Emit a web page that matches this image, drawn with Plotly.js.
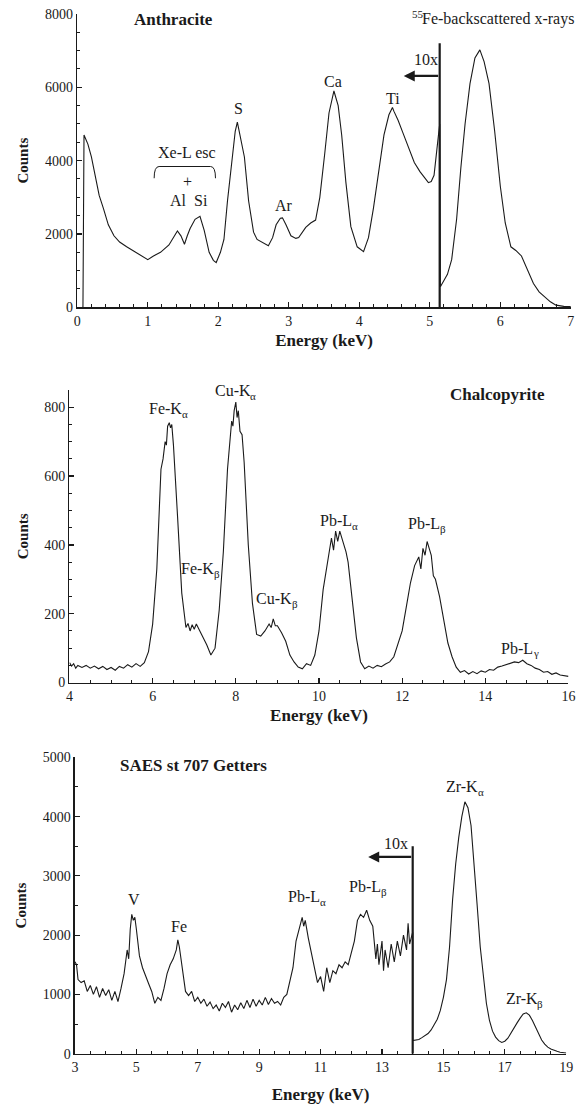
<!DOCTYPE html>
<html>
<head>
<meta charset="utf-8">
<script src="https://cdn.plot.ly/plotly-3.0.1.min.js"></script>
<style>
html,body{margin:0;padding:0;background:#fff;}
#chart{width:583px;height:1109px;}
</style>
</head>
<body>
<div id="chart"></div>
<script>
// ---------- Panel 1: Anthracite ----------
const anthE = [0.07,0.08,0.095,0.12,0.15,0.2,0.25,0.31,0.37,0.44,0.52,0.6,0.7,0.81,0.9,1.0,1.08,1.18,1.3,1.38,1.42,1.47,1.52,1.56,1.6,1.67,1.74,1.8,1.87,1.93,1.97,2.03,2.08,2.13,2.19,2.24,2.27,2.31,2.37,2.43,2.5,2.55,2.61,2.71,2.77,2.82,2.88,2.91,2.96,3.03,3.1,3.14,3.24,3.31,3.38,3.44,3.51,3.57,3.64,3.7,3.75,3.81,3.88,3.97,4.06,4.13,4.2,4.28,4.35,4.42,4.47,4.49,4.55,4.62,4.7,4.78,4.86,4.94,4.98,5.02,5.06,5.1,5.14,
  5.15,5.25,5.31,5.38,5.44,5.5,5.57,5.64,5.71,5.77,5.84,5.92,6.0,6.07,6.15,6.22,6.3,6.38,6.47,6.55,6.63,6.71,6.79,6.9,7.0];
const anthCounts = [0,0,4700,4600,4450,4100,3600,3050,2700,2250,1950,1780,1650,1530,1420,1300,1400,1500,1700,1980,2080,1950,1720,1950,2150,2400,2480,2100,1500,1280,1220,1500,1850,2900,4000,4800,5050,4700,4100,2900,2050,1850,1780,1680,1900,2250,2430,2440,2250,1950,1880,1900,2180,2300,2380,3000,4200,5300,5900,5500,4700,3400,2200,1650,1520,1900,2700,3700,4700,5250,5450,5350,5100,4750,4350,3950,3700,3480,3400,3430,3600,4300,5000,
  560,900,1300,2400,3800,5000,6100,6800,7020,6700,6100,4800,3300,2300,1650,1550,1400,1050,650,420,280,150,60,25,20];

// ---------- Panel 2: Chalcopyrite ----------
const chalE = [4.0,4.05,4.1,4.15,4.2,4.3,4.4,4.5,4.6,4.7,4.8,4.9,5.0,5.1,5.2,5.3,5.4,5.5,5.6,5.7,5.8,5.9,6.0,6.1,6.2,6.25,6.3,6.33,6.36,6.4,6.43,6.46,6.5,6.55,6.6,6.7,6.8,6.85,6.9,6.95,7.0,7.05,7.1,7.2,7.3,7.4,7.5,7.6,7.7,7.8,7.9,7.93,7.96,8.0,8.03,8.06,8.1,8.15,8.2,8.3,8.4,8.5,8.6,8.7,8.8,8.85,8.9,8.95,9.0,9.1,9.2,9.3,9.4,9.5,9.6,9.7,9.8,9.9,10.0,10.1,10.2,10.3,10.35,10.4,10.45,10.5,10.55,10.6,10.65,10.7,10.8,10.9,11.0,11.1,11.2,11.3,11.4,11.5,11.6,11.7,11.8,11.9,12.0,12.1,12.2,12.3,12.4,12.45,12.5,12.55,12.6,12.65,12.7,12.75,12.8,12.9,13.0,13.1,13.2,13.3,13.4,13.5,13.6,13.7,13.8,13.9,14.0,14.1,14.2,14.3,14.4,14.5,14.6,14.7,14.8,14.9,15.0,15.1,15.2,15.3,15.4,15.5,15.6,15.7,15.8,15.9,16.0];
const chalCounts = [58,48,55,42,50,44,50,42,48,40,47,38,44,36,47,42,52,45,55,47,58,90,170,330,620,650,700,690,745,755,740,750,690,600,480,260,160,172,150,168,155,170,158,130,110,80,100,210,380,620,760,745,790,815,770,790,730,720,640,400,230,140,135,150,170,160,185,165,165,145,120,80,60,45,40,55,50,80,150,270,350,420,385,440,410,440,420,400,380,350,230,130,60,40,48,42,50,46,54,60,75,110,150,220,290,340,365,330,390,370,410,390,370,310,300,250,180,115,75,45,30,35,25,32,26,34,30,38,36,45,48,52,55,60,58,65,55,50,42,38,30,32,24,28,22,20,18];

// ---------- Panel 3: SAES st 707 Getters ----------
const saesE = [3.0,3.05,3.1,3.2,3.3,3.4,3.5,3.6,3.7,3.8,3.9,4.0,4.1,4.2,4.3,4.4,4.5,4.6,4.7,4.75,4.8,4.85,4.9,4.95,5.0,5.1,5.2,5.3,5.4,5.5,5.6,5.7,5.8,5.9,6.0,6.1,6.2,6.3,6.35,6.4,6.5,6.6,6.7,6.8,6.9,7.0,7.1,7.2,7.3,7.4,7.5,7.6,7.7,7.8,7.9,8.0,8.1,8.2,8.3,8.4,8.5,8.6,8.7,8.8,8.9,9.0,9.1,9.2,9.3,9.4,9.5,9.6,9.7,9.8,9.9,10.0,10.1,10.2,10.3,10.4,10.45,10.5,10.6,10.7,10.8,10.9,11.0,11.1,11.2,11.3,11.4,11.5,11.6,11.7,11.8,11.9,12.0,12.1,12.2,12.3,12.4,12.5,12.6,12.7,12.8,12.85,12.9,13.0,13.05,13.1,13.2,13.3,13.4,13.5,13.6,13.7,13.8,13.85,13.9,14.0,
  14.0,14.1,14.2,14.3,14.4,14.5,14.6,14.7,14.8,14.9,15.0,15.1,15.2,15.3,15.4,15.5,15.6,15.7,15.8,15.9,16.0,16.1,16.2,16.3,16.4,16.5,16.6,16.7,16.8,16.9,17.0,17.1,17.2,17.3,17.4,17.5,17.6,17.7,17.8,17.9,18.0,18.1,18.2,18.3,18.4,18.5,18.6,18.7,18.8,18.9,19.0];
const saesCounts = [1550,1500,1250,1200,1230,1050,1150,1000,1130,950,1100,980,1080,900,1050,880,1100,1350,1750,1600,2100,2350,2250,2300,2100,1650,1450,1300,1180,1050,850,950,900,1100,1350,1500,1600,1750,1920,1800,1450,1050,980,1050,880,950,850,920,800,870,760,820,720,850,780,880,700,820,740,860,760,900,780,920,800,900,820,950,830,930,850,880,820,950,1000,1250,1450,1900,2100,2300,2150,2250,1950,1700,1450,1200,1300,1050,1450,1200,1400,1350,1500,1450,1550,1500,1700,1900,2250,2350,2300,2420,2250,2150,1600,1850,1500,1900,1400,1750,1450,1850,1550,1900,1650,2000,1750,2200,1850,2050,
  220,230,240,270,300,340,400,480,580,730,950,1250,1800,2600,3200,3650,4000,4250,4150,3850,3100,2500,1800,1300,850,560,380,280,220,190,210,260,350,450,520,600,670,690,650,560,450,330,230,160,110,80,55,40,25,15,10];

// ---------- Texts ----------
const panelNames = ['Anthracite','Chalcopyrite','SAES st 707 Getters'];
const anthLabels = ['S','Ca','Ti','Ar','Xe-L esc','+','Al','Si','10x'];
const sourceLabel = 'Fe-backscattered x-rays';
const sourceSup = '55';
const chalLabels = ['Fe-K','Cu-K','Fe-K','Cu-K','Pb-L','Pb-L','Pb-L'];
const chalSubs = ['α','α','β','β','α','β','γ'];
const saesLabels = ['V','Fe','Pb-L','Pb-L','Zr-K','Zr-K','10x'];
const saesSubs = ['','','α','β','α','β',''];
const xTitle = 'Energy (keV)';
const yTitle = 'Counts';

// ---------- Styling ----------
const FONT = 'Liberation Serif';
const INK = '#1a1a1a';
const tickFont = {family: FONT, size: 14, color: INK};
const LAB = 16, SUB = 11;
const labFont = {family: FONT, size: LAB, color: INK};
const subFont = {family: FONT, size: SUB, color: INK};
const boldFont = {family: FONT, size: 17, color: INK, weight: 'bold'};

// label positions (data coords) [x, y, anchor]
const namePos = [[1.37,7850,'center','x','y'],[14.3,836,'center','x2','y2'],[4.48,4870,'left','x3','y3']];
const anthPos = [[2.28,5430,'center'],[3.63,6170,'center'],[4.48,5700,'center'],[2.93,2770,'center'],[1.55,4220,'center'],[1.56,3430,'center'],[1.43,2910,'center'],[1.75,2910,'center'],[4.94,6760,'center']];
const sourcePos = [7.0,7870];
const chalPos = [[6.38,795],[7.99,848],[7.14,331],[8.98,244],[10.48,470],[12.59,462],[14.81,100]];
const saesPos = [[4.93,2600],[6.40,2150],[10.54,2646],[12.55,2815],[15.7,4504],[17.64,929],[13.46,3547]];

const ctx = document.createElement('canvas').getContext('2d');
function tw(t, size){ ctx.font = size + 'px "' + FONT + '"'; return ctx.measureText(t).width; }

const annotations = [];
function plain(text, x, y, xr, yr, anchor, font){
  annotations.push({x, y, xref:xr, yref:yr, text, showarrow:false, xanchor:anchor, yanchor:'middle', font, borderpad:0, borderwidth:0});
}
function withSub(main, sub, x, y, xr, yr){
  if(!sub){ plain(main, x, y, xr, yr, 'center', labFont); return; }
  const wm = tw(main, LAB), ws = tw(sub, SUB), left = -(wm + ws)/2;
  annotations.push({x, y, xref:xr, yref:yr, text:main, showarrow:false, xanchor:'left', yanchor:'middle', xshift:left, font:labFont, borderpad:0, borderwidth:0});
  annotations.push({x, y, xref:xr, yref:yr, text:sub, showarrow:false, xanchor:'left', yanchor:'middle', xshift:left + wm, yshift:-5, font:subFont, borderpad:0, borderwidth:0});
}

panelNames.forEach((t,i)=>plain(t, namePos[i][0], namePos[i][1], namePos[i][3], namePos[i][4], namePos[i][2], boldFont));
anthLabels.forEach((t,i)=>plain(t, anthPos[i][0], anthPos[i][1], 'x', 'y', anthPos[i][2], labFont));
// superscripted source label, right aligned near the right edge of panel 1
(function(){
  const wm = tw(sourceLabel, LAB);
  annotations.push({x:sourcePos[0], y:sourcePos[1], xref:'x', yref:'y', text:sourceLabel, showarrow:false, xanchor:'right', yanchor:'middle', xshift:3, font:labFont, borderpad:0, borderwidth:0});
  annotations.push({x:sourcePos[0], y:sourcePos[1], xref:'x', yref:'y', text:sourceSup, showarrow:false, xanchor:'right', yanchor:'middle', xshift:5.5 - wm, yshift:5, font:subFont, borderpad:0, borderwidth:0});
})();
chalLabels.forEach((t,i)=>withSub(t, chalSubs[i], chalPos[i][0], chalPos[i][1], 'x2', 'y2'));
saesLabels.forEach((t,i)=>withSub(t, saesSubs[i], saesPos[i][0], saesPos[i][1], 'x3', 'y3'));

// 10x arrows (markers of the scaled region)
const arrowSpecs = [[4.63,5.14,6310,'x','y'],[12.55,14.0,3320,'x3','y3']];
arrowSpecs.forEach(a=>annotations.push({x:a[0], y:a[2], ax:a[1], ay:a[2], xref:a[3], yref:a[4], axref:a[3], ayref:a[4], text:' ', showarrow:true, arrowhead:2, arrowsize:1, arrowwidth:2.2, arrowcolor:INK, font:{size:1}}));

const shapes = [
  {type:'line', xref:'x', yref:'y', x0:5.14, x1:5.14, y0:0, y1:7200, line:{color:INK, width:2.2}},
  {type:'line', xref:'x3', yref:'y3', x0:14.0, x1:14.0, y0:0, y1:3500, line:{color:INK, width:2.2}},
  {type:'path', xref:'x', yref:'y', path:'M 1.09,3520 Q 1.09,3840 1.16,3840 L 1.89,3840 Q 1.96,3840 1.96,3520', line:{color:INK, width:1}}
];

function xax(domain, range, dtick, tick0, minorDt, anchor, standoff){
  return {domain, range, dtick, tick0, anchor, ticks:'inside', ticklen:5, tickwidth:1.2, tickcolor:INK,
    minor:{ticks:'inside', dtick:minorDt, ticklen:3, tickwidth:1, tickcolor:INK, showgrid:false},
    showline:true, linecolor:INK, linewidth:1.5, showgrid:false, zeroline:false, automargin:false,
    tickfont:tickFont, title:{text:xTitle, font:boldFont, standoff:standoff}};
}
function yax(domain, range, dtick, minorDt, anchor){
  return {domain, range, dtick, tick0:0, anchor, ticks:'inside', ticklen:5, tickwidth:1.2, tickcolor:INK,
    minor:{ticks:'inside', dtick:minorDt, ticklen:3, tickwidth:1, tickcolor:INK, showgrid:false},
    showline:true, linecolor:INK, linewidth:1.5, showgrid:false, zeroline:false, automargin:false,
    tickfont:tickFont, title:{text:yTitle, font:{family:FONT, size:15, color:INK, weight:'bold'}, standoff:12}};
}

const layout = {
  width:583, height:1109, margin:{l:0,r:0,t:0,b:0}, paper_bgcolor:'#fff', plot_bgcolor:'#fff',
  showlegend:false,
  xaxis: xax([0.1326,0.9791],[0,7],1,0,0.2,'y',6),
  yaxis: yax([0.7229,0.9874],[0,8000],2000,500,'x'),
  xaxis2: xax([0.1192,0.9751],[4,16],2,4,0.5,'y2',6),
  yaxis2: yax([0.3845,0.6483],[0,850],200,50,'x2'),
  xaxis3: xax([0.1286,0.9712],[3,19],2,3,0.5,'y3',14),
  yaxis3: yax([0.0499,0.3171],[0,5000],1000,500,'x3'),
  annotations, shapes
};

const lineStyle = {color:INK, width:1.1};
const data = [
  {x:anthE, y:anthCounts, xaxis:'x', yaxis:'y', type:'scatter', mode:'lines', line:lineStyle},
  {x:chalE, y:chalCounts, xaxis:'x2', yaxis:'y2', type:'scatter', mode:'lines', line:lineStyle},
  {x:saesE, y:saesCounts, xaxis:'x3', yaxis:'y3', type:'scatter', mode:'lines', line:lineStyle}
];

Plotly.newPlot('chart', data, layout, {staticPlot:true, displayModeBar:false});
</script>
</body>
</html>
